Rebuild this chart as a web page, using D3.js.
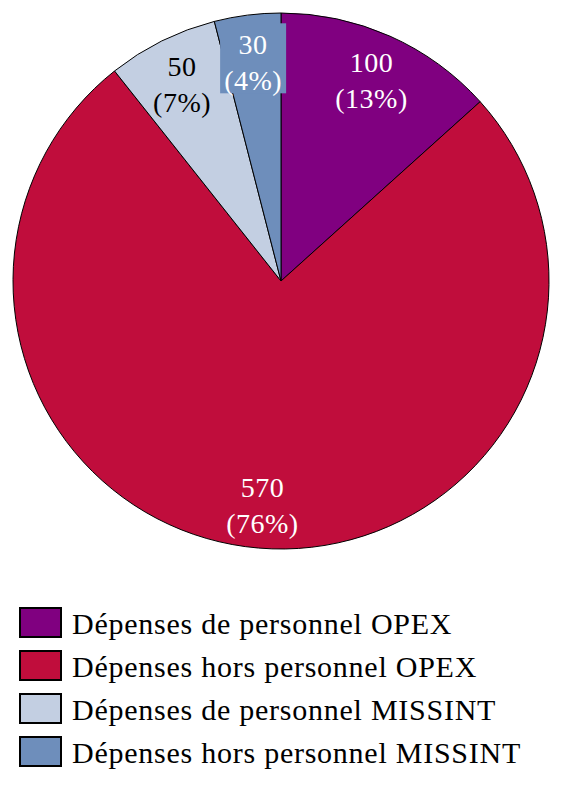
<!DOCTYPE html>
<html>
<head>
<meta charset="utf-8">
<script src="https://cdn.jsdelivr.net/npm/d3@7"></script>
<style>
  body { margin: 0; background: #fff; }
  text { font-family: "Liberation Serif", serif; }
</style>
</head>
<body>
<div id="pie"></div>
<script>
var labels = ["Dépenses de personnel OPEX", "Dépenses hors personnel OPEX",
              "Dépenses de personnel MISSINT", "Dépenses hors personnel MISSINT"];
var values = [100, 570, 50, 30];
var colors = ["#800080", "#c00d3c", "#c3cfe2", "#6e8ebb"];
var textColors = ["#fff", "#fff", "#000", "#fff"];

var width = 562, height = 790,
    cx = 281, cy = 281, radius = 268;

var svg = d3.select("div#pie")
    .append("svg")
        .attr("width", width)
        .attr("height", height);

var total = d3.sum(values);
var data = values.map(function(v, i) { return {value: v, label: labels[i], i: i}; });

var pie = d3.pie()
    .sort(null)
    .value(function(d) { return d.value; });

var arc = d3.arc().innerRadius(0).outerRadius(radius);
var labelArc = d3.arc().innerRadius(radius * 0.83).outerRadius(radius * 0.83);

var g = svg.append("g")
    .attr("transform", "translate(" + cx + "," + cy + ")");

var arcs = pie(data);

g.selectAll(".slice")
    .data(arcs)
    .enter().append("path")
        .attr("class", "slice")
        .attr("d", arc)
        .style("fill", function(d) { return colors[d.data.i]; })
        .style("stroke", "black")
        .style("stroke-width", 1);

var lab = g.selectAll(".lab")
    .data(arcs)
    .enter().append("g")
        .attr("class", "lab")
        .attr("transform", function(d) { return "translate(" + labelArc.centroid(d) + ")"; });

// small slice gets a filled box behind its label
lab.filter(function(d) { return d.data.i === 3; })
    .append("rect")
        .attr("x", -33).attr("y", -37)
        .attr("width", 66).attr("height", 70)
        .style("fill", function(d) { return colors[d.data.i]; });

var txt = lab.append("text")
    .attr("text-anchor", "middle")
    .style("font-size", "28px")
    .style("letter-spacing", "0.5px")
    .style("fill", function(d) { return textColors[d.data.i]; });
txt.append("tspan")
    .attr("x", 0).attr("y", -6)
    .text(function(d) { return d.data.value; });
txt.append("tspan")
    .attr("x", 0).attr("y", 30)
    .text(function(d) { return "(" + Math.round(d.data.value / total * 100) + "%)"; });

// legend
var legend = svg.selectAll(".legend")
    .data(data)
    .enter().append("g")
        .attr("class", "legend")
        .attr("transform", function(d, i) { return "translate(20," + (608 + i * 43) + ")"; });

legend.append("rect")
    .attr("width", 41).attr("height", 29)
    .style("fill", function(d) { return colors[d.i]; })
    .style("stroke", "black")
    .style("stroke-width", 2);

legend.append("text")
    .attr("x", 52).attr("y", 26)
    .style("font-size", "30px")
    .style("letter-spacing", "0.75px")
    .text(function(d) { return d.label; });
</script>
</body>
</html>
